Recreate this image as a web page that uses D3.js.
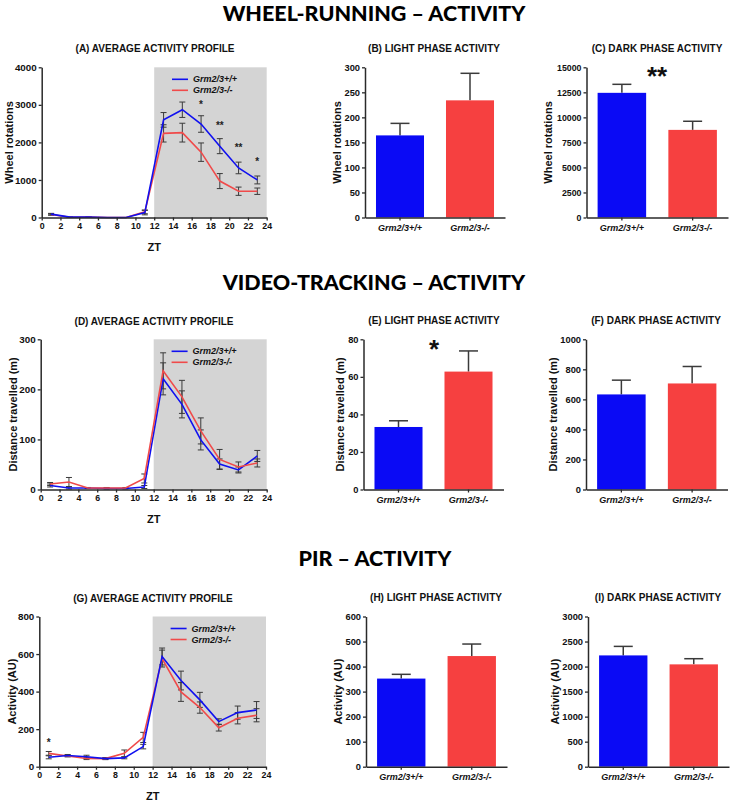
<!DOCTYPE html>
<html><head><meta charset="utf-8">
<script src="https://cdn.jsdelivr.net/npm/d3@7"></script>
<style>
body{margin:0;background:#fff;}
svg{display:block;font-family:"Liberation Sans",Arial,sans-serif;}
.hdr{font-family:Lato,"Open Sans",sans-serif;font-weight:900;font-size:21.5px;fill:#000;}
.ttl{font-family:"Liberation Sans",Arial,sans-serif;font-weight:bold;font-size:10px;fill:#111;}
.ylab{font-family:"Liberation Sans",Arial,sans-serif;font-weight:bold;font-size:11px;fill:#111;}
.tick text{font-weight:bold;fill:#111;font-family:"Liberation Sans",Arial,sans-serif;}
.lg{font-family:"Liberation Sans",Arial,sans-serif;font-weight:bold;font-style:italic;font-size:9px;fill:#111;}
</style></head>
<body>
<svg id="chart" width="733" height="803"></svg>
<script>
// ---------- DATA ----------
const zt = [1,3,5,7,9,11,13,15,17,19,21,23];
const ztTicks = [0,2,4,6,8,10,12,14,16,18,20,22,24];
const groups = ["Grm2/3+/+","Grm2/3-/-"];

const wheelWT    = [90,10,10,0,0,130,2600,2870,2490,1900,1320,1000];
const wheelWTerr = [20,5,5,0,0,60,195,205,220,200,155,105];
const wheelKO    = [80,5,15,0,0,150,2240,2260,1740,970,700,700];
const wheelKOerr = [20,5,5,0,0,50,230,250,245,200,110,85];
const wheelStarsX = [17,19,21,23];
const wheelStarsY = [3050,2510,1930,1550];
const wheelStarsT = ["*","**","**","*"];

const vidWT    = [8,3,3,2,2,5,221,170,99,51,39,67];
const vidWTerr = [3,2,1,1,1,3,32,27,20,10,6,11];
const vidKO    = [11,15,3,3,3,22,237,185,117,60,45,53];
const vidKOerr = [3,9,1,1,1,9,36,33,26,20,10,8];

const pirWT    = [50,60,53,43,47,107,587,459,356,240,288,302];
const pirWTerr = [8,5,8,5,5,12,45,50,40,15,35,45];
const pirKO    = [71,57,44,43,71,156,576,398,315,208,258,274];
const pirKOerr = [10,5,6,5,18,27,45,50,30,18,30,35];
const pirStarsX = [1];
const pirStarsY = [142];
const pirStarsT = ["*"];

const wheelLight = [164,234],   wheelLightErr = [24,54];
const wheelDark  = [12450,8750], wheelDarkErr = [850,860];
const vidLight   = [33.3,62.8], vidLightErr = [3.3,11];
const vidDark    = [633,706],   vidDarkErr = [95,113];
const pirLight   = [352,442],   pirLightErr = [17,48];
const pirDark    = [2223,2044], pirDarkErr = [180,113];

const wheelTicks = [0,1000,2000,3000,4000];
const wheelLightTicks = [0,50,100,150,200,250,300];
const wheelDarkTicks = [0,2500,5000,7500,10000,12500,15000];
const vidTicks = [0,100,200,300];
const vidLightTicks = [0,20,40,60,80];
const vidDarkTicks = [0,200,400,600,800,1000];
const pirTicks = [0,200,400,600,800];
const pirLightTicks = [0,100,200,300,400,500,600];
const pirDarkTicks = [0,500,1000,1500,2000,2500,3000];

const headers = ["WHEEL-RUNNING – ACTIVITY","VIDEO-TRACKING – ACTIVITY","PIR – ACTIVITY"];

// ---------- STYLE ----------
const BLUE = "#1010f0", RED = "#f04a4a", BLUE_BAR = "#0a0af5", RED_BAR = "#f64040";
const AX = "#2a2a2a", ERR = "#3a3a3a", SHADE = "#d4d4d4";
const fmt = d3.format("d");

const svg = d3.select("#chart");

svg.append("text").attr("class","hdr").attr("x",374).attr("y",21).attr("text-anchor","middle").text(headers[0]);
svg.append("text").attr("class","hdr").attr("x",374).attr("y",290).attr("text-anchor","middle").text(headers[1]);
svg.append("text").attr("class","hdr").attr("x",375).attr("y",566).attr("text-anchor","middle").text(headers[2]);

function styleAxis(g, fs){
  g.selectAll(".domain").attr("stroke",AX).attr("stroke-width",1.5);
  g.selectAll(".tick line").attr("stroke",AX).attr("stroke-width",1.3);
  if(fs) g.selectAll(".tick text").style("font-size",fs+"px");
}

function linePanel(o){
  const x = d3.scaleLinear().domain([0,24]).range([o.x0,o.x1]);
  const y = d3.scaleLinear().domain([0,o.ticks[o.ticks.length-1]]).range([o.y0,o.y1]);
  const g = svg.append("g");
  g.append("rect").attr("x",x(12)).attr("y",y(y.domain()[1])).attr("width",x(24)-x(12))
    .attr("height",y(0)-y(y.domain()[1])).attr("fill",SHADE);
  const series = [{v:o.ko,e:o.koE,c:RED},{v:o.wt,e:o.wtE,c:BLUE}];
  const order = o.blueTop ? series : series.slice().reverse();
  series.forEach(s=>{
    zt.forEach((t,i)=>{
      if(s.e[i]<=0) return;
      const cx = x(t), yt = y(s.v[i]+s.e[i]), yb = y(Math.max(0,s.v[i]-s.e[i]));
      g.append("line").attr("x1",cx).attr("x2",cx).attr("y1",yt).attr("y2",yb).attr("stroke",ERR).attr("stroke-width",1);
      g.append("line").attr("x1",cx-3).attr("x2",cx+3).attr("y1",yt).attr("y2",yt).attr("stroke",ERR).attr("stroke-width",1);
      g.append("line").attr("x1",cx-3).attr("x2",cx+3).attr("y1",yb).attr("y2",yb).attr("stroke",ERR).attr("stroke-width",1);
    });
  });
  const line = d3.line().x((d,i)=>x(zt[i])).y(d=>y(d));
  order.forEach(s=>{
    g.append("path").datum(s.v).attr("d",line).attr("fill","none").attr("stroke",s.c).attr("stroke-width",1.6);
  });
  const ya = g.append("g").attr("transform",`translate(${o.x0},0)`)
    .call(d3.axisLeft(y).tickValues(o.ticks).tickFormat(fmt).tickSize(3).tickPadding(2).tickSizeOuter(0));
  styleAxis(ya, 9.8);
  const xa = g.append("g").attr("transform",`translate(0,${o.y0})`)
    .call(d3.axisBottom(x).tickValues(ztTicks).tickFormat(fmt).tickSize(3).tickPadding(2).tickSizeOuter(0));
  styleAxis(xa, 8.8);
  g.append("text").attr("class","ylab").attr("transform",`translate(${o.ylx},${(o.y0+o.y1)/2}) rotate(-90)`)
    .attr("text-anchor","middle").attr("dominant-baseline","central").text(o.ylab);
  g.append("text").attr("class","ylab").attr("x",x(12)).attr("y",o.y0+33).attr("text-anchor","middle").text("ZT");
  g.append("text").attr("class","ttl").attr("x",o.tx).attr("y",o.ty).attr("text-anchor","middle").text(o.title);
  const lx = x(13.9), ly = o.y1+12;
  [{c:BLUE,t:groups[0]},{c:RED,t:groups[1]}].forEach((d,i)=>{
    g.append("line").attr("x1",lx).attr("x2",lx+16).attr("y1",ly+i*11).attr("y2",ly+i*11).attr("stroke",d.c).attr("stroke-width",1.6);
    g.append("text").attr("class","lg").attr("x",lx+21).attr("y",ly+i*11).attr("dominant-baseline","central").text(d.t);
  });
  if(o.starsX){
    o.starsX.forEach((sx,i)=>{
      g.append("text").attr("x",x(sx)).attr("y",y(o.starsY[i])+5.5).attr("text-anchor","middle")
        .attr("font-size",10).attr("font-weight","bold").attr("fill","#222").text(o.starsT[i]);
    });
  }
}

function barPanel(o){
  const y = d3.scaleLinear().domain([0,o.ticks[o.ticks.length-1]]).range([o.y0,o.y1]);
  const x = d3.scaleBand().domain(groups).range([o.ax,o.axEnd]).paddingInner(0.314).paddingOuter(0.157);
  const g = svg.append("g");
  const cols = [BLUE_BAR,RED_BAR];
  groups.forEach((k,i)=>{
    const cx = x(k)+x.bandwidth()/2;
    g.append("line").attr("x1",cx).attr("x2",cx).attr("y1",y(o.vals[i])).attr("y2",y(o.vals[i]+o.errs[i])).attr("stroke",ERR).attr("stroke-width",1.5);
    g.append("line").attr("x1",cx-9.5).attr("x2",cx+9.5).attr("y1",y(o.vals[i]+o.errs[i])).attr("y2",y(o.vals[i]+o.errs[i])).attr("stroke",ERR).attr("stroke-width",1.5);
    g.append("rect").attr("x",x(k)).attr("y",y(o.vals[i])).attr("width",x.bandwidth()).attr("height",y(0)-y(o.vals[i])).attr("fill",cols[i]);
  });
  const ya = g.append("g").attr("transform",`translate(${o.ax},0)`)
    .call(d3.axisLeft(y).tickValues(o.ticks).tickFormat(fmt).tickSize(3).tickPadding(2).tickSizeOuter(0));
  styleAxis(ya, o.tfs || 9.3);
  const xs = d3.scaleLinear().domain([0,1]).range([o.ax,o.axEnd]);
  const xa = g.append("g").attr("transform",`translate(0,${o.y0})`)
    .call(d3.axisBottom(xs).tickValues([]).tickSizeOuter(0));
  styleAxis(xa);
  groups.forEach(k=>{
    const cx = x(k)+x.bandwidth()/2;
    g.append("line").attr("x1",cx).attr("x2",cx).attr("y1",o.y0).attr("y2",o.y0+3).attr("stroke",AX).attr("stroke-width",1.3);
    g.append("text").attr("class","lg").attr("x",cx).attr("y",o.y0+13.5).attr("text-anchor","middle").text(k);
  });
  g.append("text").attr("class","ylab").attr("transform",`translate(${o.ylx},${(o.y0+o.y1)/2}) rotate(-90)`)
    .attr("text-anchor","middle").attr("dominant-baseline","central").text(o.ylab);
  g.append("text").attr("class","ttl").attr("x",o.tx).attr("y",o.ty).attr("text-anchor","middle").text(o.title);
  if(o.star){
    g.append("text").attr("x",o.starX).attr("y",y(o.starY)+13).attr("text-anchor","middle")
      .attr("font-size",26).attr("font-weight","bold").attr("fill","#111").text(o.star);
  }
}

// Row 1
linePanel({x0:41.7,x1:266.7,y0:217.5,y1:67.3,ticks:wheelTicks,wt:wheelWT,wtE:wheelWTerr,ko:wheelKO,koE:wheelKOerr,
  ylab:"Wheel rotations",ylx:8.5,title:"(A) AVERAGE ACTIVITY PROFILE",tx:155,ty:52,blueTop:true,
  starsX:wheelStarsX,starsY:wheelStarsY,starsT:wheelStarsT});
barPanel({ax:365,axEnd:505,y0:217.5,y1:67.3,ticks:wheelLightTicks,vals:wheelLight,errs:wheelLightErr,
  ylab:"Wheel rotations",ylx:337,title:"(B) LIGHT PHASE ACTIVITY",tx:434,ty:52});
barPanel({ax:586.5,axEnd:728,y0:217.5,y1:67.3,ticks:wheelDarkTicks,vals:wheelDark,errs:wheelDarkErr,tfs:8.8,
  ylab:"Wheel rotations",ylx:548,title:"(C) DARK PHASE ACTIVITY",tx:657,ty:52,star:"**",starX:657,starY:14500});

// Row 2
linePanel({x0:40.7,x1:266.7,y0:489.5,y1:339.3,ticks:vidTicks,wt:vidWT,wtE:vidWTerr,ko:vidKO,koE:vidKOerr,
  ylab:"Distance travelled (m)",ylx:12.5,title:"(D) AVERAGE ACTIVITY PROFILE",tx:154,ty:325,blueTop:false});
barPanel({ax:363.5,axEnd:503.5,y0:489.5,y1:339.3,ticks:vidLightTicks,vals:vidLight,errs:vidLightErr,
  ylab:"Distance travelled (m)",ylx:340,title:"(E) LIGHT PHASE ACTIVITY",tx:434,ty:324,star:"*",starX:434,starY:77});
barPanel({ax:586,axEnd:727.5,y0:489.5,y1:339.3,ticks:vidDarkTicks,vals:vidDark,errs:vidDarkErr,
  ylab:"Distance travelled (m)",ylx:553,title:"(F) DARK PHASE ACTIVITY",tx:656,ty:324});

// Row 3
linePanel({x0:39.3,x1:266,y0:766.7,y1:616.5,ticks:pirTicks,wt:pirWT,wtE:pirWTerr,ko:pirKO,koE:pirKOerr,
  ylab:"Activity (AU)",ylx:11.5,title:"(G) AVERAGE ACTIVITY PROFILE",tx:153,ty:601.5,blueTop:true,
  starsX:pirStarsX,starsY:pirStarsY,starsT:pirStarsT});
barPanel({ax:366,axEnd:507,y0:766.7,y1:616.5,ticks:pirLightTicks,vals:pirLight,errs:pirLightErr,
  ylab:"Activity (AU)",ylx:338,title:"(H) LIGHT PHASE ACTIVITY",tx:436,ty:601});
barPanel({ax:588,axEnd:729,y0:766.7,y1:616.5,ticks:pirDarkTicks,vals:pirDark,errs:pirDarkErr,
  ylab:"Activity (AU)",ylx:555,title:"(I) DARK PHASE ACTIVITY",tx:658,ty:601});
</script>
</body></html>
